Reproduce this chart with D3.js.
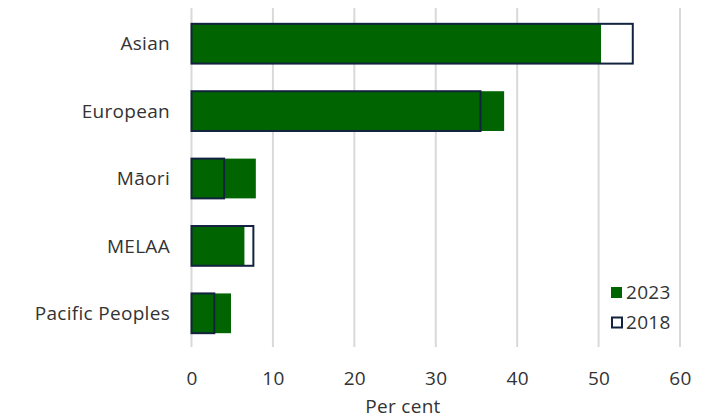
<!DOCTYPE html>
<html>
<head>
<meta charset="utf-8">
<script src="https://cdn.jsdelivr.net/npm/d3@7"></script>
<style>
  html, body { margin: 0; padding: 0; background: #fff; }
  svg { display: block; font-family: "Open Sans", Roboto, sans-serif; }
</style>
</head>
<body>
<svg id="chart" width="705" height="419"></svg>
<script>
const categories = ["Asian", "European", "Māori", "MELAA", "Pacific Peoples"];
const values2023 = [50.3, 38.4, 7.9, 6.5, 4.85];
const values2018 = [54.2, 35.5, 4.0, 7.6, 2.8];
const xTicks = [0, 10, 20, 30, 40, 50, 60];
const legendLabels = ["2023", "2018"];
const axisTitle = "Per cent";

const svg = d3.select("#chart");
const green = "#006400";
const navy = "#13233f";
const grid = "#d9d9d9";
const textColor = "#333333";
const fontSize = 19;
const font = "\"Open Sans\", sans-serif";

const x = d3.scaleLinear().domain([0, 60]).range([191.5, 680]);
const y = d3.scaleBand().domain(categories).range([10, 347]).paddingInner(0.41).paddingOuter(0.205);

// gridlines
svg.append("g").selectAll("line").data(xTicks).join("line")
  .attr("x1", d => x(d)).attr("x2", d => x(d))
  .attr("y1", 8).attr("y2", 347)
  .attr("stroke", grid).attr("stroke-width", 2);

// x axis labels
const xAxis = d3.axisBottom(x).tickValues(xTicks).tickSize(0).tickPadding(0);
const gx = svg.append("g").attr("transform", "translate(0,385)").call(xAxis);
gx.select(".domain").remove();
gx.selectAll("text").attr("font-size", fontSize).attr("fill", textColor)
  .attr("font-family", font).attr("dy", 0).attr("letter-spacing", 0.3);

// y axis labels
const yAxis = d3.axisLeft(y).tickSize(0).tickPadding(0);
const gy = svg.append("g").attr("transform", "translate(170,0)").call(yAxis);
gy.select(".domain").remove();
gy.selectAll("text").attr("font-size", fontSize).attr("fill", textColor)
  .attr("font-family", font).attr("dy", "0.35em").attr("letter-spacing", 0.3);

// 2023 bars
svg.append("g").selectAll("rect").data(categories).join("rect")
  .attr("x", x(0))
  .attr("y", d => y(d))
  .attr("width", (d, i) => x(values2023[i]) - x(0))
  .attr("height", y.bandwidth())
  .attr("fill", green);

// 2018 outlines
svg.append("g").selectAll("rect").data(categories).join("rect")
  .attr("x", x(0))
  .attr("y", d => y(d))
  .attr("width", (d, i) => x(values2018[i]) - x(0))
  .attr("height", y.bandwidth())
  .attr("fill", "none")
  .attr("stroke", navy)
  .attr("stroke-width", 2);

// axis title
svg.append("text").attr("x", 403).attr("y", 413).attr("text-anchor", "middle")
  .attr("font-size", fontSize).attr("fill", textColor).attr("letter-spacing", 0.3)
  .text(axisTitle);

// legend
const legend = svg.append("g");
const legY = [292.5, 322.5];
legendLabels.forEach((lab, i) => {
  if (i === 0) {
    legend.append("rect").attr("x", 611).attr("y", legY[i] - 5.5).attr("width", 11).attr("height", 11).attr("fill", green);
  } else {
    legend.append("rect").attr("x", 612).attr("y", legY[i] - 5).attr("width", 10).attr("height", 10)
      .attr("fill", "#fff").attr("stroke", navy).attr("stroke-width", 2);
  }
  legend.append("text").attr("x", 626).attr("y", legY[i]).attr("dy", "0.35em")
    .attr("font-size", fontSize).attr("fill", textColor).attr("letter-spacing", 0.3).text(lab);
});
</script>
</body>
</html>
